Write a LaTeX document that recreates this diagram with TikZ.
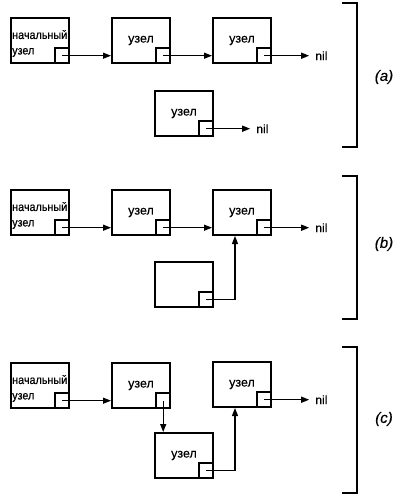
\documentclass[tikz,border=0pt]{standalone}
\usepackage{fontspec}
\setmainfont{Liberation Sans}[FakeBold=0.4]
\newfontfamily\narrowfont[FakeStretch=0.9,FakeBold=0.4]{Liberation Sans}
\usetikzlibrary{arrows.meta,calc}
\tikzset{
  x=1pt,y=-1pt,
  nodebox/.style={draw, line width=2pt, minimum width=58pt, minimum height=45pt, inner sep=0pt,
    font=\fontsize{12.5}{14}\selectfont},
  ptr/.style={draw, line width=1.6pt, minimum width=14pt, minimum height=15pt, inner sep=0pt, anchor=south east},
  arr/.style={line width=1.3pt, -{Triangle[length=8pt,width=6pt]}},
  nilarr/.style={arr, shorten >=5pt},
  niltxt/.style={anchor=west, inner sep=1pt, font=\fontsize{12}{13}\selectfont},
  startlbl/.style={anchor=west, align=left, inner sep=0pt, font=\narrowfont\fontsize{12}{15.5}\selectfont},
  brk/.style={line width=2pt},
  plbl/.style={font=\itshape\fontsize{15}{18}\selectfont}
}
\begin{document}
\begin{tikzpicture}
\useasboundingbox (0,0) rectangle (400,500);
% ---------- (a)
\node[nodebox] (a1) at (40,40.5) {};
\node[startlbl] (a1t) at ($(a1.west)+(2,3)$) {начальный\\узел};
\node[ptr] (a1p) at (a1.south east) {};
\node[nodebox] (a2) at (141,40.5) {узел};
\node[ptr] (a2p) at (a2.south east) {};
\node[nodebox] (a3) at (242,40.5) {узел};
\node[ptr] (a3p) at (a3.south east) {};
\node[nodebox] (a4) at (184,113.5) {узел};
\node[ptr] (a4p) at (a4.south east) {};
\node[niltxt] (anil1) at ($(a3p.center)+(50,0)$) {nil};
\node[niltxt] (anil2) at ($(a4p.center)+(49,0)$) {nil};
\draw[arr] (a1p.center) -- (a2.west |- a1p.center);
\draw[arr] (a2p.center) -- (a3.west |- a2p.center);
\draw[nilarr] (a3p.center) -- (anil1.west);
\draw[nilarr] (a4p.center) -- (anil2.west);
\draw[brk] (342,3) -- (357,3) -- (357,147) -- (342,147);
\node[plbl] (la) at (384,77) {(a)};
% ---------- (b)
\node[nodebox] (b1) at (40,212.5) {};
\node[startlbl] (b1t) at ($(b1.west)+(2,3)$) {начальный\\узел};
\node[ptr] (b1p) at (b1.south east) {};
\node[nodebox] (b2) at (141,212.5) {узел};
\node[ptr] (b2p) at (b2.south east) {};
\node[nodebox] (b3) at (242,212.5) {узел};
\node[ptr] (b3p) at (b3.south east) {};
\node[nodebox] (b4) at (184,284.5) {};
\node[ptr] (b4p) at (b4.south east) {};
\node[niltxt] (bnil) at ($(b3p.center)+(50,0)$) {nil};
\coordinate (b3in) at ($(b3.south west)+(23,0)$);
\draw[arr] (b1p.center) -- (b2.west |- b1p.center);
\draw[arr] (b2p.center) -- (b3.west |- b2p.center);
\draw[nilarr] (b3p.center) -- (bnil.west);
\draw[arr] (b4p.center) -| (b3in);
\draw[brk] (342,176) -- (357,176) -- (357,319) -- (342,319);
\node[plbl] (lb) at (384,244) {(b)};
% ---------- (c)
\node[nodebox] (c1) at (40,385.5) {};
\node[startlbl] (c1t) at ($(c1.west)+(2,3)$) {начальный\\узел};
\node[ptr] (c1p) at (c1.south east) {};
\node[nodebox] (c2) at (141,385.5) {узел};
\node[ptr] (c2p) at (c2.south east) {};
\node[nodebox] (c3) at (242,384.5) {узел};
\node[ptr] (c3p) at (c3.south east) {};
\node[nodebox] (c4) at (184,455.5) {узел};
\node[ptr] (c4p) at (c4.south east) {};
\node[niltxt] (cnil) at ($(c3p.center)+(50,0)$) {nil};
\coordinate (c3in) at ($(c3.south west)+(23,0)$);
\draw[arr] (c1p.center) -- (c2.west |- c1p.center);
\draw[arr] (c2p.center) -- (c4.north -| c2p.center);
\draw[nilarr] (c3p.center) -- (cnil.west);
\draw[arr] (c4p.center) -| (c3in);
\draw[brk] (342,347) -- (357,347) -- (357,493) -- (342,493);
\node[plbl] (lc) at (384,419) {(c)};
\end{tikzpicture}
\end{document}
